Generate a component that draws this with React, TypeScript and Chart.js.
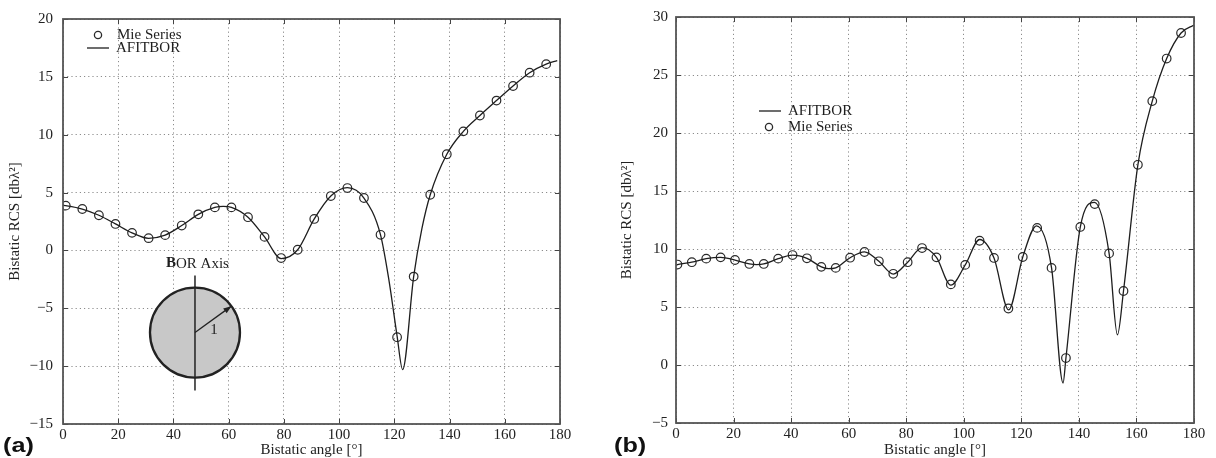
import React, { useEffect, useRef } from 'react';
import { Chart, registerables } from 'chart.js';

Chart.register(...registerables);

// ---------- data ----------
const xTicks = [0, 20, 40, 60, 80, 100, 120, 140, 160, 180];
const seriesMie = 'Mie Series';
const seriesAfit = 'AFITBOR';
const xTitle = 'Bistatic angle [°]';
const yTitle = 'Bistatic RCS [dbλ²]';

// (a) panel
const leftYMin = -15;
const leftYMax = 20;
const leftMieAngles = [1, 7, 13, 19, 25, 31, 37, 43, 49, 55, 61, 67, 73, 79, 85, 91, 97, 103, 109, 115, 121, 127, 133, 139, 145, 151, 157, 163, 169, 175];
const leftMieValues = [3.87, 3.58, 3.04, 2.29, 1.52, 1.06, 1.32, 2.15, 3.12, 3.72, 3.72, 2.87, 1.17, -0.66, 0.06, 2.72, 4.7, 5.39, 4.53, 1.35, -7.5, -2.26, 4.81, 8.31, 10.29, 11.66, 12.95, 14.21, 15.36, 16.1];
const leftLineAngles = [0, 1, 7, 13, 19, 25, 31, 37, 43, 49, 55, 58, 61, 67, 73, 79, 85, 91, 97, 103, 109, 115, 118, 121, 123, 127, 130, 133, 139, 145, 151, 157, 163, 169, 175, 179];
const leftLineValues = [3.9, 3.87, 3.58, 3.04, 2.29, 1.52, 1.05, 1.32, 2.15, 3.12, 3.72, 3.8, 3.72, 2.87, 1.17, -0.7, 0.06, 2.72, 4.7, 5.42, 4.53, 1.35, -2.5, -7.4, -10.3, -2.26, 1.9, 4.81, 8.31, 10.29, 11.66, 12.95, 14.21, 15.36, 16.1, 16.4];

// (b) panel
const rightYMin = -5;
const rightYMax = 30;
const rightMieAngles = [0.5, 5.5, 10.5, 15.5, 20.5, 25.5, 30.5, 35.5, 40.5, 45.5, 50.5, 55.5, 60.5, 65.5, 70.5, 75.5, 80.5, 85.5, 90.5, 95.5, 100.5, 105.5, 110.5, 115.5, 120.5, 125.5, 130.5, 135.5, 140.5, 145.5, 150.5, 155.5, 160.5, 165.5, 170.5, 175.5];
const rightMieValues = [8.66, 8.86, 9.17, 9.28, 9.05, 8.71, 8.71, 9.17, 9.48, 9.2, 8.46, 8.37, 9.25, 9.74, 8.94, 7.86, 8.86, 10.08, 9.28, 6.95, 8.63, 10.71, 9.23, 4.87, 9.31, 11.82, 8.37, 0.6, 11.9, 13.87, 9.62, 6.38, 17.26, 22.75, 26.42, 28.62];
const rightLineAngles = [0, 0.5, 5.5, 10.5, 15.5, 20.5, 25.5, 28, 30.5, 35.5, 40.5, 45.5, 50.5, 53, 55.5, 60.5, 65.5, 70.5, 75.5, 80.5, 85.5, 90.5, 95.5, 100.5, 105.5, 110.5, 115.6, 120.5, 125.3, 130.5, 134.5, 135.5, 140.5, 145.4, 150.5, 153.4, 155.5, 160.5, 165.5, 170.5, 175.5, 180];
const rightLineValues = [8.6, 8.66, 8.86, 9.17, 9.28, 9.05, 8.72, 8.66, 8.71, 9.17, 9.48, 9.2, 8.46, 8.3, 8.37, 9.25, 9.76, 8.94, 7.84, 8.86, 10.12, 9.28, 6.88, 8.63, 10.82, 9.23, 4.75, 9.31, 12.0, 8.37, -1.55, 0.6, 11.9, 14.02, 9.62, 2.6, 6.38, 17.26, 22.75, 26.42, 28.62, 29.3];

// ---------- styling ----------
const SERIF = '"Liberation Serif", "DejaVu Serif", serif';
const INK = '#1e1e1e';
const FRAME = '#555555';
const GRID = '#8c8c8c';

const fmtTick = (v: number) => (v < 0 ? '\u2212' + Math.abs(v) : String(v));

type LegendItem = { kind: 'circle' | 'line'; dx: number; dy: number };

function makePlugin(id: string, legend: LegendItem[], labels: string[], inset: boolean) {
  return {
    id,
    afterDraw(chart: any) {
      const { ctx, chartArea: a, scales } = chart;
      const xs = scales.x;
      const ys = scales.y;
      ctx.save();
      // inward tick marks
      ctx.strokeStyle = '#444';
      ctx.lineWidth = 1;
      ctx.beginPath();
      xs.ticks.forEach((t: any) => {
        const p = Math.round(xs.getPixelForValue(t.value)) + 0.5;
        ctx.moveTo(p, a.bottom);
        ctx.lineTo(p, a.bottom - 5);
        ctx.moveTo(p, a.top);
        ctx.lineTo(p, a.top + 5);
      });
      ys.ticks.forEach((t: any) => {
        const p = Math.round(ys.getPixelForValue(t.value)) + 0.5;
        ctx.moveTo(a.left, p);
        ctx.lineTo(a.left + 5, p);
        ctx.moveTo(a.right, p);
        ctx.lineTo(a.right - 5, p);
      });
      ctx.stroke();
      // frame
      ctx.strokeStyle = FRAME;
      ctx.lineWidth = 1.8;
      ctx.strokeRect(a.left, a.top, a.right - a.left, a.bottom - a.top);

      // legend
      ctx.font = '15px ' + SERIF;
      ctx.fillStyle = INK;
      ctx.textBaseline = 'middle';
      ctx.textAlign = 'left';
      legend.forEach((it, i) => {
        const x = a.left + it.dx;
        const y = a.top + it.dy;
        if (it.kind === 'circle') {
          ctx.beginPath();
          ctx.strokeStyle = '#2a2a2a';
          ctx.lineWidth = 1.3;
          ctx.arc(x + 10, y, 3.6, 0, Math.PI * 2);
          ctx.stroke();
        } else {
          ctx.beginPath();
          ctx.strokeStyle = INK;
          ctx.lineWidth = 1.3;
          ctx.moveTo(x, y);
          ctx.lineTo(x + 22, y);
          ctx.stroke();
        }
        ctx.fillText(labels[i], x + 29, y + 0.5);
      });

      // sphere inset
      if (inset) {
        const cx = xs.getPixelForValue(47.8);
        const cy = ys.getPixelForValue(-7.1);
        const r = 45;
        ctx.beginPath();
        ctx.arc(cx, cy, r, 0, Math.PI * 2);
        ctx.fillStyle = '#c8c8c8';
        ctx.fill();
        ctx.lineWidth = 2.3;
        ctx.strokeStyle = '#222';
        ctx.stroke();
        // BOR axis
        ctx.beginPath();
        ctx.lineWidth = 1.5;
        ctx.moveTo(cx, cy - 57);
        ctx.lineTo(cx, cy + 58);
        ctx.stroke();
        // radius arrow
        const ang = (36 * Math.PI) / 180;
        const ex = cx + r * Math.cos(ang);
        const ey = cy - r * Math.sin(ang);
        ctx.beginPath();
        ctx.lineWidth = 1.3;
        ctx.moveTo(cx, cy);
        ctx.lineTo(ex, ey);
        ctx.stroke();
        const hx = Math.cos(ang);
        const hy = -Math.sin(ang);
        const px = -hy;
        const py = hx;
        ctx.beginPath();
        ctx.fillStyle = '#222';
        ctx.moveTo(ex, ey);
        ctx.lineTo(ex - 8 * hx + 3 * px, ey - 8 * hy + 3 * py);
        ctx.lineTo(ex - 8 * hx - 3 * px, ey - 8 * hy - 3 * py);
        ctx.closePath();
        ctx.fill();
        ctx.fillStyle = INK;
        ctx.font = '15px ' + SERIF;
        ctx.textAlign = 'center';
        ctx.fillText('1', cx + 19, cy - 3);
        // label
        ctx.textAlign = 'left';
        ctx.font = 'bold 15px ' + SERIF;
        const bx = cx - 29;
        const by = cy - 69;
        ctx.fillText('B', bx, by);
        const bw = ctx.measureText('B').width;
        ctx.font = '15px ' + SERIF;
        ctx.fillText('OR Axis', bx + bw, by);
      }
      ctx.restore();
    },
  };
}

function buildConfig(opts: {
  mieX: number[];
  mieY: number[];
  lineX: number[];
  lineY: number[];
  yMin: number;
  yMax: number;
  padding: { left: number; top: number; right: number; bottom: number };
  yWidth: number;
  xHeight: number;
  yTitlePad: number;
  yTickPad: number;
  order: string[];
  plugin: any;
}) {
  const mie = {
    label: seriesMie,
    data: opts.mieX.map((x, i) => ({ x, y: opts.mieY[i] })),
    showLine: false,
    pointStyle: 'circle',
    pointRadius: 4.3,
    pointBorderWidth: 1.2,
    pointBorderColor: '#2a2a2a',
    pointBackgroundColor: 'rgba(0,0,0,0)',
    borderColor: '#2a2a2a',
    backgroundColor: 'rgba(0,0,0,0)',
  };
  const afit = {
    label: seriesAfit,
    data: opts.lineX.map((x, i) => ({ x, y: opts.lineY[i] })),
    showLine: true,
    borderColor: INK,
    borderWidth: 1.3,
    pointRadius: 0,
    tension: 0.4,
    cubicInterpolationMode: 'monotone',
    backgroundColor: 'rgba(0,0,0,0)',
  };
  const datasets = opts.order.map((k) => (k === 'mie' ? mie : afit));
  return {
    type: 'scatter',
    data: { datasets },
    options: {
      animation: false,
      responsive: false,
      events: [],
      layout: { padding: opts.padding },
      plugins: { legend: { display: false }, tooltip: { enabled: false }, title: { display: false } },
      scales: {
        x: {
          type: 'linear',
          min: 0,
          max: 180,
          afterFit: (s: any) => {
            s.height = opts.xHeight;
          },
          afterBuildTicks: (s: any) => {
            s.ticks = xTicks.map((v) => ({ value: v }));
          },
          ticks: {
            font: { family: SERIF, size: 15 },
            color: '#222',
            padding: 2,
            maxRotation: 0,
            autoSkip: false,
            callback: (v: number) => fmtTick(v),
          },
          grid: { color: GRID, lineWidth: 1, drawTicks: false },
          border: { display: false, dash: [1.2, 3] },
          title: {
            display: true,
            text: xTitle,
            font: { family: SERIF, size: 15, lineHeight: 1 },
            color: '#222',
            padding: { top: 0, bottom: 0 },
          },
        },
        y: {
          type: 'linear',
          min: opts.yMin,
          max: opts.yMax,
          afterFit: (s: any) => {
            s.width = opts.yWidth;
          },
          ticks: {
            stepSize: 5,
            font: { family: SERIF, size: 15 },
            color: '#222',
            padding: opts.yTickPad,
            callback: (v: number) => fmtTick(v),
          },
          grid: { color: GRID, lineWidth: 1, drawTicks: false },
          border: { display: false, dash: [1.2, 3] },
          title: {
            display: true,
            text: yTitle,
            font: { family: SERIF, size: 15, lineHeight: 1 },
            color: '#222',
            padding: { top: opts.yTitlePad, bottom: 0 },
          },
        },
      },
    },
    plugins: [opts.plugin],
  };
}

export default function App() {
  const leftRef = useRef<HTMLCanvasElement>(null);
  const rightRef = useRef<HTMLCanvasElement>(null);

  useEffect(() => {
    document.body.style.margin = '0';
    const left = new Chart(
      leftRef.current as HTMLCanvasElement,
      buildConfig({
        mieX: leftMieAngles,
        mieY: leftMieValues,
        lineX: leftLineAngles,
        lineY: leftLineValues,
        yMin: leftYMin,
        yMax: leftYMax,
        padding: { left: 0, top: 18, right: 40, bottom: 0 },
        yWidth: 63,
        xHeight: 34,
        yTitlePad: 8,
        yTickPad: 10,
        order: ['afit', 'mie'],
        plugin: makePlugin(
          'frameA',
          [
            { kind: 'circle', dx: 25, dy: 16 },
            { kind: 'line', dx: 24, dy: 29 },
          ],
          [seriesMie, seriesAfit],
          true
        ),
      }) as any
    );
    const right = new Chart(
      rightRef.current as HTMLCanvasElement,
      buildConfig({
        mieX: rightMieAngles,
        mieY: rightMieValues,
        lineX: rightLineAngles,
        lineY: rightLineValues,
        yMin: rightYMin,
        yMax: rightYMax,
        padding: { left: 0, top: 14, right: 22, bottom: 0 },
        yWidth: 76,
        xHeight: 35,
        yTitlePad: 20,
        yTickPad: 8,
        order: ['afit', 'mie'],
        plugin: makePlugin(
          'frameB',
          [
            { kind: 'line', dx: 83, dy: 94 },
            { kind: 'circle', dx: 83, dy: 110 },
          ],
          [seriesAfit, seriesMie],
          false
        ),
      }) as any
    );
    return () => {
      left.destroy();
      right.destroy();
    };
  }, []);

  const tag: React.CSSProperties = {
    position: 'absolute',
    fontFamily: '"Liberation Sans", Arial, sans-serif',
    fontWeight: 'bold',
    fontSize: 21,
    lineHeight: 1,
    color: '#111',
    transform: 'scaleX(1.2)',
    transformOrigin: 'left top',
  };

  return (
    <div style={{ position: 'fixed', left: 0, top: 0, width: 1216, height: 458, background: '#fff', overflow: 'hidden' }}>
      <canvas ref={leftRef} width={600} height={458} style={{ position: 'absolute', left: 0, top: 0 }} />
      <canvas ref={rightRef} width={616} height={458} style={{ position: 'absolute', left: 600, top: 0 }} />
      <div style={{ ...tag, left: 3, top: 434 }}>(a)</div>
      <div style={{ ...tag, left: 614, top: 434 }}>(b)</div>
    </div>
  );
}
